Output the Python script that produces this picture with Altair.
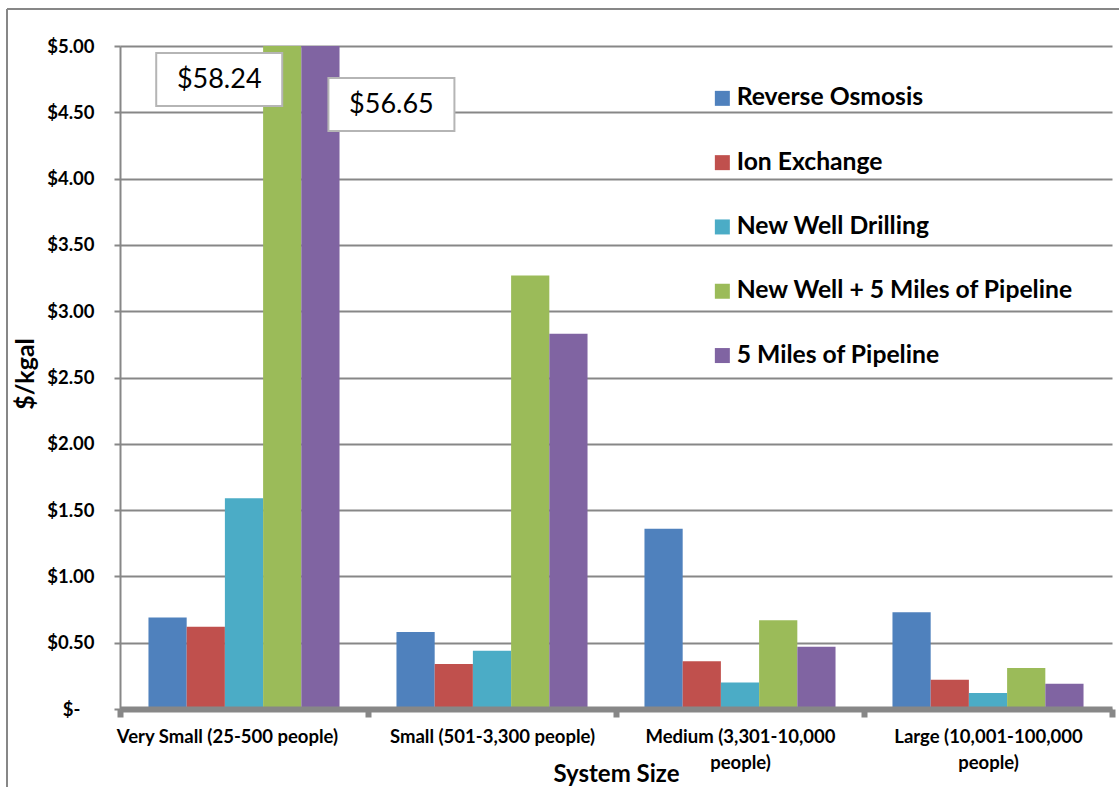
import altair as alt
import pandas as pd

# Cost of compliance options by system size ($ per thousand gallons)
categories = [
    "Very Small (25-500 people)",
    "Small (501-3,300 people)",
    "Medium (3,301-10,000 people)",
    "Large (10,001-100,000 people)",
]
series = [
    "Reverse Osmosis",
    "Ion Exchange",
    "New Well Drilling",
    "New Well + 5 Miles of Pipeline",
    "5 Miles of Pipeline",
]
reverse_osmosis = [0.69, 0.58, 1.36, 0.73]
ion_exchange = [0.62, 0.34, 0.36, 0.22]
new_well = [1.59, 0.44, 0.20, 0.12]
new_well_pipeline = [58.24, 3.27, 0.67, 0.31]
pipeline_only = [56.65, 2.83, 0.47, 0.19]
colors = ["#4F81BD", "#C0504D", "#4BACC6", "#9BBB59", "#8064A2"]
y_max = 5.0

rows = []
for name, vals in zip(series, [reverse_osmosis, ion_exchange, new_well,
                               new_well_pipeline, pipeline_only]):
    for cat, v in zip(categories, vals):
        rows.append({"size": cat, "option": name, "cost": v})
df = pd.DataFrame(rows)

FONT = "Lato"
GRAY = "#878787"
W, H = 992, 663

x_enc = alt.X(
    "size:N",
    sort=categories,
    title="System Size",
    scale=alt.Scale(paddingInner=0, paddingOuter=0),
    axis=alt.Axis(
        labelAngle=0,
        labelFont=FONT, labelFontWeight="bold", labelFontSize=18.5,
        labelColor="black", labelPadding=10, labelLineHeight=26,
        labelLimit=300,
        labelExpr="length(datum.label) > 26 ? [substring(datum.label, 0, lastindexof(datum.label, ' ')), substring(datum.label, lastindexof(datum.label, ' ') + 1)] : datum.label",
        # the first, widest label is nudged left so it clears its neighbour
        labelOffset={"condition": {"test": f"datum.value == '{categories[0]}'",
                                   "value": -17}, "value": 0},
        tickBand="extent", tickSize=8, tickWidth=6, tickColor=GRAY,
        domainColor=GRAY, domainWidth=6,
        titleFont=FONT, titleFontWeight="bold", titleFontSize=24,
        titleColor="black", titleBaseline="alphabetic", titleY=72,
        grid=False, zindex=1,
    ),
)
xoff_enc = alt.XOffset(
    "option:N", sort=series,
    scale=alt.Scale(paddingInner=0, paddingOuter=0.745),
)
y_scale = alt.Scale(domain=[0, y_max], clamp=True, nice=False)

bars = alt.Chart(df).mark_bar().encode(
    x=x_enc,
    xOffset=xoff_enc,
    y=alt.Y(
        "cost:Q",
        scale=y_scale,
        title="$/kgal",
        axis=alt.Axis(
            values=[i * 0.5 for i in range(11)],
            labelExpr="datum.value == 0 ? '$-' : '$' + format(datum.value, '.2f')",
            labelFont=FONT, labelFontWeight="bold", labelFontSize=18.5,
            labelColor="black",
            labelPadding={"condition": {"test": "datum.value == 0", "value": 34},
                          "value": 20},
            tickSize=6, tickWidth=2, tickColor=GRAY,
            domainColor=GRAY, domainWidth=2,
            gridColor=GRAY, gridWidth=2,
            titleFont=FONT, titleFontWeight="bold", titleFontSize=25,
            titleColor="black", titleAngle=-90, titleBaseline="middle",
            titleX=-95, titleY=H / 2 - 4,
        ),
    ),
    color=alt.Color(
        "option:N",
        sort=series,
        scale=alt.Scale(domain=series, range=colors),
        legend=alt.Legend(
            title=None, orient="none", legendX=590, legendY=40,
            symbolType="square", symbolSize=225, symbolStrokeWidth=0,
            labelFont=FONT, labelFontWeight="bold", labelFontSize=24.7,
            labelColor="black", labelOffset=2, labelLimit=400,
            rowPadding=38.3, padding=0,
        ),
    ),
)

# Boxed value labels for the two bars that run past the top of the axis
over = df[df["cost"] > y_max]
base_over = alt.Chart(over).transform_calculate(
    capped=f"min(datum.cost, {y_max})",
    label="'$' + format(datum.cost, '.2f')",
)

def boxed_label(option, box_path, dx, dy):
    sel = base_over.transform_filter(alt.datum.option == option)
    enc = dict(
        x=alt.X("size:N", sort=categories),
        xOffset=alt.XOffset("option:N", sort=series),
        y=alt.Y("capped:Q", scale=y_scale),
    )
    box = sel.mark_point(
        shape=box_path, size=4, filled=True, fill="white", opacity=1,
        stroke="#b5b5b5", strokeWidth=2,
    ).encode(**enc)
    txt = sel.mark_text(
        font=FONT, fontSize=27, color="black", dx=dx, dy=dy,
        align="center", baseline="middle",
    ).encode(text="label:N", **enc)
    return box + txt

label_a = boxed_label("New Well + 5 Miles of Pipeline",
                      "M-126,7H0V60H-126Z", -63, 33.5)
label_b = boxed_label("5 Miles of Pipeline",
                      "M8,32H134V85H8Z", 71, 58.5)

# Outer chart frame (left and top edges)
frame_left = alt.Chart(df.head(1)).mark_rule(color=GRAY, strokeWidth=2).encode(
    x=alt.value(-113), y=alt.value(-37), y2=alt.value(760)
)
frame_top = alt.Chart(df.head(1)).mark_rule(color=GRAY, strokeWidth=2).encode(
    x=alt.value(-113), x2=alt.value(1010), y=alt.value(-37)
)

chart = (
    alt.layer(bars, label_a, label_b, frame_left, frame_top)
    .resolve_scale(x="shared", y="shared")
    .properties(
        width=W, height=H,
        autosize=alt.AutoSizeParams(type="none"),
        padding={"left": 120, "top": 46, "right": 7, "bottom": 78},
        background="white",
    )
    .configure_view(stroke=None)
)

chart.save("out.html", embed_options={"renderer": "svg", "actions": False})
